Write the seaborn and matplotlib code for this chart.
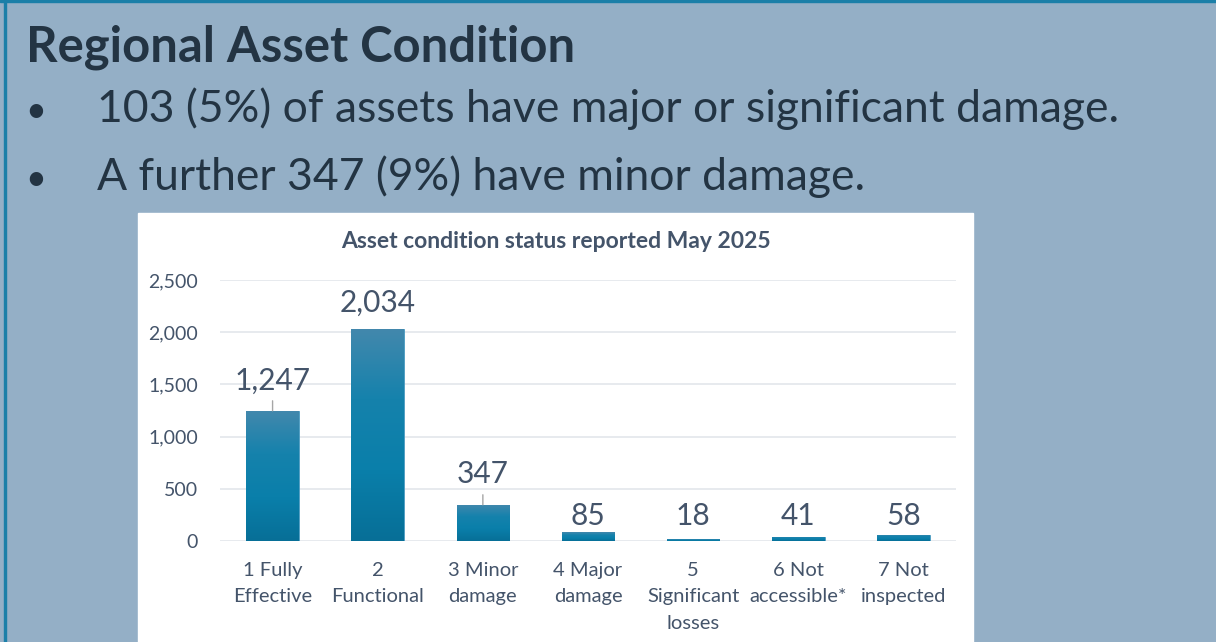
import numpy as np
import pandas as pd
import seaborn as sns
import matplotlib.pyplot as plt
from matplotlib.colors import LinearSegmentedColormap
from matplotlib.patches import Rectangle

# chart data
categories = ['1 Fully\nEffective', '2\nFunctional', '3 Minor\ndamage',
              '4 Major\ndamage', '5\nSignificant\nlosses',
              '6 Not\naccessible*', '7 Not\ninspected']
counts = [1247, 2034, 347, 85, 18, 41, 58]
y_ticks = [0, 500, 1000, 1500, 2000, 2500]

slide_title = 'Regional Asset Condition'
bullets = ['103 (5%) of assets have major or significant damage.',
           'A further 347 (9%) have minor damage.']
chart_title = 'Asset condition status reported May 2025'


def main():
    sns.set_style('white')
    plt.rcParams['font.family'] = ['Lato', 'DejaVu Sans']

    slide_bg = '#94AFC6'
    text_dark = '#233443'
    text_chart = '#44546A'

    fig = plt.figure(figsize=(12.16, 6.42), dpi=100)
    fig.patch.set_facecolor(slide_bg)

    # slide border (left + top) and white chart panel
    fig.patches.append(Rectangle((4 / 1216, 0), 2 / 1216, 1, zorder=-1,
                                 transform=fig.transFigure, color='#1B7FA8'))
    fig.patches.append(Rectangle((0, 1 - 2 / 642), 1, 2 / 642, zorder=-1,
                                 transform=fig.transFigure, color='#1B7FA8'))
    fig.patches.append(Rectangle((138 / 1216, 0), 835 / 1216, 429 / 642,
                                 zorder=-1, transform=fig.transFigure,
                                 color='white'))

    fig.text(26 / 1216, 1 - 62 / 642, slide_title, fontsize=35.3,
             fontweight='bold', color=text_dark, va='baseline')
    for k, line in enumerate(bullets):
        yb = 1 - (122 + 68 * k) / 642
        fig.text(25 / 1216, yb, '\u2022', fontsize=26, color=text_dark,
                 va='baseline')
        fig.text(97 / 1216, yb, line, fontsize=32, color=text_dark,
                 va='baseline')

    fig.text(556 / 1216, 1 - 242 / 642, chart_title, fontsize=16.5,
             fontweight='bold', color=text_chart, ha='center', va='center')

    ax = fig.add_axes([220 / 1216, 101 / 642, 736 / 1216, 261 / 642])
    ax.set_facecolor('none')

    df = pd.DataFrame({'status': categories, 'count': counts})
    sns.barplot(data=df, x='status', y='count', color='#0A7EA9',
                width=0.5, saturation=1, ax=ax, zorder=2)

    # vertical gradient on each bar
    cmap = LinearSegmentedColormap.from_list(
        'bar', ['#076F97', '#0A7FAA', '#1582AC', '#4388AD'])
    grad = np.linspace(0, 1, 256).reshape(-1, 1)
    for patch in ax.patches:
        x0, w, h = patch.get_x(), patch.get_width(), patch.get_height()
        im = ax.imshow(grad, cmap=cmap, origin='lower', aspect='auto',
                       extent=[x0, x0 + w, 0, h], zorder=3)
        im.set_clip_path(patch)
        patch.set_edgecolor('#4E9CC2')
        patch.set_linewidth(0.6)

    # data labels, baseline offset above bar top (px)
    label_px = [21, 17, 22, 7, 14, 12, 10]
    leader = [True, False, True, False, False, False, False]
    for i, v in enumerate(counts):
        ax.annotate(f'{v:,}', xy=(i, v), xytext=(0, label_px[i] * 0.72),
                    textcoords='offset points', ha='center', va='baseline',
                    fontsize=21.5, color=text_chart)
        if leader[i]:
            ax.annotate('', xy=(i, v), xytext=(0, 10 * 0.72),
                        textcoords='offset points',
                        arrowprops=dict(arrowstyle='-', color='#A6A6A6',
                                        lw=1, shrinkA=0, shrinkB=0))

    ax.set_xlim(-0.5, len(categories) - 0.5)
    ax.set_ylim(0, 2500)
    ax.set_yticks(y_ticks)
    ax.set_yticklabels([f'{t:,}' for t in y_ticks])
    ax.yaxis.grid(True, color='#E3E6EB', lw=1.2, zorder=0)
    ax.set_axisbelow(True)
    for s in ax.spines.values():
        s.set_visible(False)
    ax.tick_params(axis='y', length=0, pad=16, labelsize=14,
                   labelcolor=text_chart)
    ax.tick_params(axis='x', length=0, pad=15, labelsize=14.5,
                   labelcolor=text_chart)
    for lab in ax.get_xticklabels():
        lab.set_linespacing(1.68)
        lab.set_verticalalignment('top')
    ax.set_xlabel('')
    ax.set_ylabel('')

    plt.savefig('out.png', dpi=100, facecolor=fig.get_facecolor())


if __name__ == '__main__':
    main()
